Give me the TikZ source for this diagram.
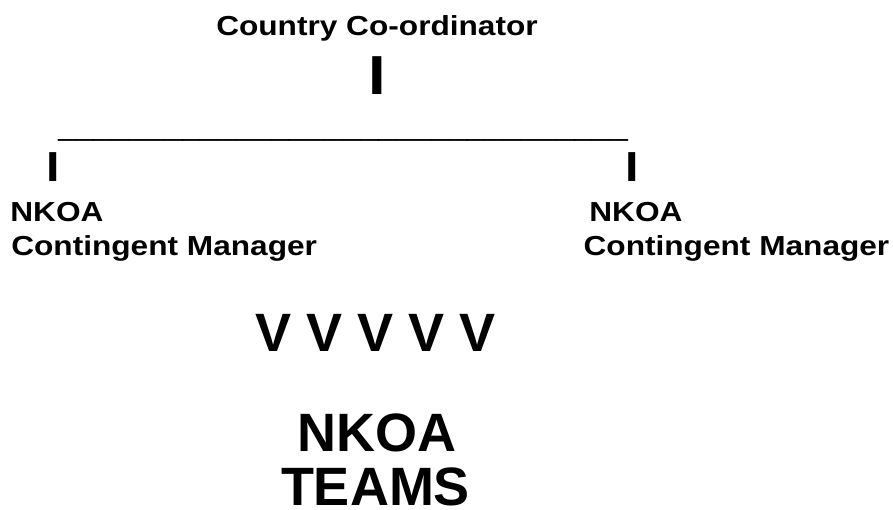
\documentclass[tikz,border=0pt]{standalone}
\usepackage{fontspec}
\setmainfont{Liberation Sans}
\newcommand\wideTxt[1]{\scalebox{1.15}[1]{#1}}
\newcommand\ruleTxt[1]{\scalebox{1.165}[1.75]{#1}}
\tikzset{
  lbl/.style={inner sep=0pt, outer sep=0pt, font=\bfseries\fontsize{27.5}{27.5}\selectfont},
  bar/.style={inner sep=0pt, outer sep=0pt, font=\bfseries\fontsize{55}{55}\selectfont},
  smallbar/.style={inner sep=0pt, outer sep=0pt, font=\bfseries\fontsize{42}{42}\selectfont},
  big/.style={inner sep=0pt, outer sep=0pt, font=\bfseries\fontsize{54}{54}\selectfont}
}
\begin{document}
\begin{tikzpicture}[x=1pt,y=-1pt]
\useasboundingbox (0,0) rectangle (893,510);
\node[lbl, anchor=base] (cc) at (377,36) {\wideTxt{Country Co-ordinator}};
\node[bar, anchor=base] (ctop) at (377,94.3) {\wideTxt{I}};
\node[lbl, anchor=base west] (hline) at (58.3,135.3) {\ruleTxt{\_\_\_\_\_\_\_\_\_\_\_\_\_\_\_\_\_\_\_\_\_\_\_\_\_\_\_\_\_\_\_\_}};
\node[smallbar, anchor=base] (lbar) at (53,181.7) {\wideTxt{I}};
\node[smallbar, anchor=base] (rbar) at (632.5,181.7) {\wideTxt{I}};
\node[lbl, anchor=base west] (ln) at (10.4,221.2) {\wideTxt{NKOA}};
\node[lbl, anchor=base west] (lm) at (11.3,256) {\wideTxt{Contingent Manager}};
\node[lbl, anchor=base west] (rn) at (589.4,221.2) {\wideTxt{NKOA}};
\node[lbl, anchor=base west] (rm) at (583.6,256) {\wideTxt{Contingent Manager}};
\node[big, anchor=base] (vv) at (375.3,351.7) {V V V V V};
\node[big, anchor=base] (nt) at (377,451.7) {NKOA};
\node[big, anchor=base] (tm) at (375.5,505) {TEAMS};
\end{tikzpicture}
\end{document}
